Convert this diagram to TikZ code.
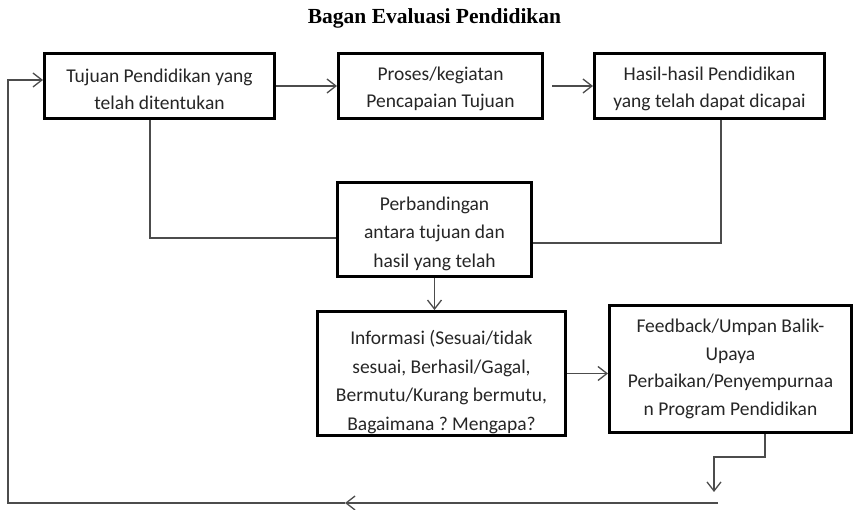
\documentclass[tikz,border=0pt]{standalone}
\usepackage{fontspec}
\setmainfont{Carlito}[Ligatures=NoCommon]
\newfontfamily\judulfont{Liberation Serif}
\usetikzlibrary{arrows.meta}
\frenchspacing
\newcommand\ganjal[1]{\rule{0pt}{#1}}
\tikzset{>={Straight Barb[length=9pt,width=14pt,line width=1.3pt]}}
\tikzset{kotak/.style={draw,line width=3pt,align=center,inner sep=2pt,text=black!85,font=\fontsize{19.5}{27}\selectfont},
garis/.style={draw=black!70,line width=1.3pt}}

\begin{document}
\begin{tikzpicture}[x=1pt,y=-1pt]
\useasboundingbox (0,0) rectangle (855,510);
\node (judul) [anchor=base] at (434.5,24) {\judulfont\bfseries\fontsize{21.5}{24}\selectfont Bagan Evaluasi Pendidikan};

\node (tujuan) [kotak,minimum width=230pt,minimum height=65pt] at (159.5,86) {\ganjal{19.5pt}Tujuan Pendidikan yang\\telah ditentukan};
\node (proses) [kotak,minimum width=204pt,minimum height=65pt] at (440.5,86) {\ganjal{19.5pt}Proses/kegiatan\\Pencapaian Tujuan};
\node (hasil) [kotak,minimum width=230pt,minimum height=65pt] at (709.5,86) {\ganjal{19.5pt}Hasil-hasil Pendidikan\\yang telah dapat dicapai};
\node (banding) [kotak,minimum width=194pt,minimum height=94pt,font=\fontsize{19.5}{28.5}\selectfont] at (434.5,229.5) {\ganjal{21.5pt}Perbandingan\\antara tujuan dan\\hasil yang telah};
\node (info) [kotak,minimum width=248pt,minimum height=120pt,font=\fontsize{19.5}{28.5}\selectfont] at (441.5,373.5) {\ganjal{31pt}Informasi (Sesuai/tidak\\sesuai, Berhasil/Gagal,\\Bermutu/Kurang bermutu,\\Bagaimana ? Mengapa?};
\node (feedback) [kotak,minimum width=242pt,minimum height=127pt,font=\fontsize{19.5}{27.5}\selectfont] at (730.5,369) {Feedback/Umpan Balik-\\Upaya\\Perbaikan/Penyempurnaa\\n Program Pendidikan};

\coordinate (belok) at (714,457);
\coordinate (ujung) at (714,492);
\coordinate (bawahkanan) at (718,503);
\coordinate (bawahtengah) at (345,503);
\coordinate (bawahkiri) at (8,503);

\draw[garis,->] (tujuan.east) -- (proses.west);
\draw[garis,->] ([xshift=8pt]proses.east) -- (hasil.west);
\draw[garis] ([xshift=-9.5pt]tujuan.south) |- ([yshift=-8.5pt]banding.west);
\draw[garis] ([xshift=11.5pt]hasil.south) |- ([yshift=-13.5pt]banding.east);
\draw[garis,->] (banding.south) -- (banding.south |- info.north);
\draw[garis,->] (info.east) -- (info.east -| feedback.west);
\draw[garis,->] ([xshift=34.5pt]feedback.south) |- (belok) -- (ujung);
\draw[garis,->] (bawahkanan) -- (bawahtengah);
\draw[garis,->] (bawahtengah) -- (bawahkiri) |- ([yshift=6pt]tujuan.west);
\end{tikzpicture}
\end{document}
